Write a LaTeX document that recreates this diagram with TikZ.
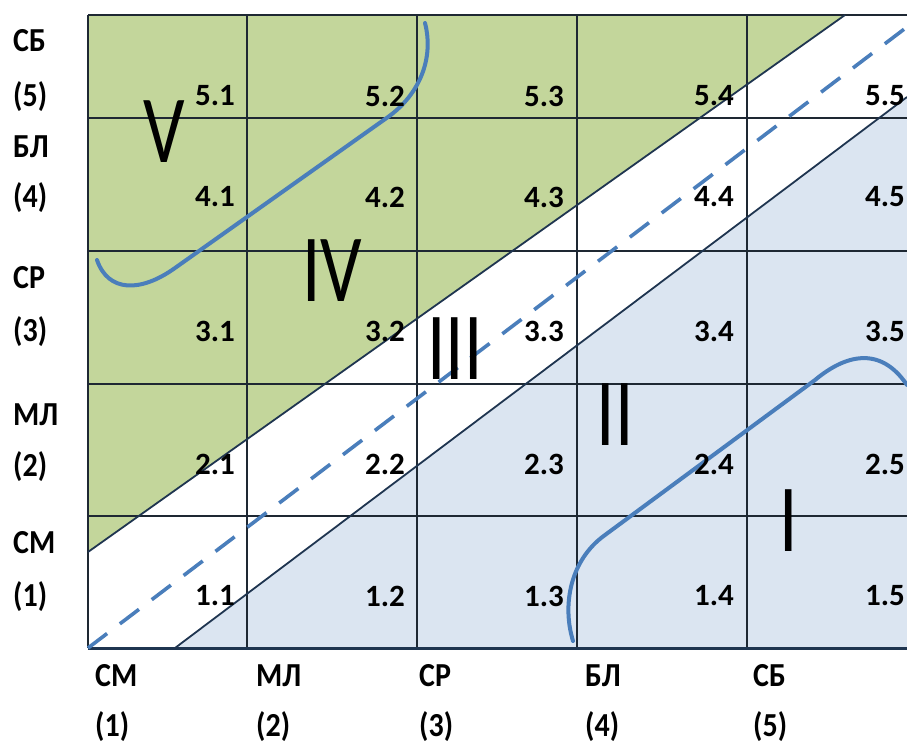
\documentclass[tikz,border=0pt]{standalone}
\usepackage{fontspec}
\setmainfont{Carlito}
\definecolor{zgreen}{HTML}{C3D69B}
\definecolor{zblue}{HTML}{DBE5F1}
\definecolor{cblue}{HTML}{4A7EBB}
\definecolor{gline}{HTML}{1E2833}
\definecolor{dline}{HTML}{1F3550}
\newcommand\tallt[1]{\scalebox{1}[1.12]{#1}}
\newcommand\romt[1]{\scalebox{0.85}[1.12]{#1}}
\begin{document}
\begin{tikzpicture}[x=1pt,y=-1pt,
  gridln/.style={draw=gline,line width=1.5},
  frame/.style={draw=gline,line width=2.6},
  diag/.style={draw=dline,line width=1.8},
  crv/.style={draw=cblue,line width=4,line cap=round},
  dashln/.style={draw=cblue,line width=3.6,dash pattern=on 24 off 16},
  lab/.style={font=\bfseries\fontsize{30}{30}\selectfont,anchor=west,inner sep=0},
  num/.style={font=\bfseries\fontsize{31}{31}\selectfont,anchor=east,inner sep=0},
  roman/.style={font=\fontsize{86}{86}\selectfont,inner sep=0}]
\useasboundingbox (0,0) rectangle (907,744);
\fill[white] (0,0) rectangle (907,744);
% coordinates of corners
\coordinate (tl) at (88,15);
\coordinate (tr) at (907,15);
\coordinate (bl) at (88,648);
\coordinate (br) at (907,648);
\coordinate (gA) at (845,15);
\coordinate (gB) at (88,552);
\coordinate (bA) at (175,648);
\coordinate (bB) at (907,97);
\coordinate (dA) at (88,648);
\coordinate (dB) at (907,27);
% fills
\fill[zgreen] (tl) -- (gA) -- (gB) -- cycle;
\fill[zblue] (bA) -- (bB) -- (br) -- cycle;
% grid
\foreach \x in {247,417,577,747} \draw[gridln] (\x,15) -- (\x,648);
\foreach \y in {118,251,384,516} \draw[gridln] (88,\y) -- (907,\y);
\draw[gridln] (tl) -- (bl);
\draw[frame] (tl) -- (tr);
\draw[frame,draw=dline,line width=3] (bl) -- (br);
% diagonals
\draw[diag] (gB) -- (gA);
\draw[diag] (bA) -- (bB);
\draw[dashln] (dA) -- (dB);
% curves
\draw[crv] (97,260) .. controls (108,292) and (140,293) .. (175,268) -- (388,117) .. controls (420,94) and (434,58) .. (425,23);
\draw[crv] (573,641) .. controls (562,605) and (570,560) .. (605,535) -- (815,380) .. controls (845,355) and (880,345) .. (907,385);
% left labels
\node[lab] (ly5a) at (13,41) {\tallt{СБ}};
\node[lab] (ly5b) at (13,97) {\tallt{(5)}};
\node[lab] (ly4a) at (13,147) {\tallt{БЛ}};
\node[lab] (ly4b) at (13,198) {\tallt{(4)}};
\node[lab] (ly3a) at (13,278) {\tallt{СР}};
\node[lab] (ly3b) at (13,332) {\tallt{(3)}};
\node[lab] (ly2a) at (13,415) {\tallt{МЛ}};
\node[lab] (ly2b) at (13,467) {\tallt{(2)}};
\node[lab] (ly1a) at (13,543) {\tallt{СМ}};
\node[lab] (ly1b) at (13,597) {\tallt{(1)}};
% bottom labels
\node[lab] (lx1a) at (95,676) {\tallt{СМ}};
\node[lab] (lx1b) at (95,727) {\tallt{(1)}};
\node[lab] (lx2a) at (256,676) {\tallt{МЛ}};
\node[lab] (lx2b) at (256,727) {\tallt{(2)}};
\node[lab] (lx3a) at (419,676) {\tallt{СР}};
\node[lab] (lx3b) at (419,727) {\tallt{(3)}};
\node[lab] (lx4a) at (585,676) {\tallt{БЛ}};
\node[lab] (lx4b) at (585,727) {\tallt{(4)}};
\node[lab] (lx5a) at (753,676) {\tallt{СБ}};
\node[lab] (lx5b) at (753,727) {\tallt{(5)}};
% cell numbers
\foreach \r/\yy in {5/96,4/197,3/331,2/464,1/596}{
  \foreach \c/\xx in {1/235,2/405,3/564,4/734,5/905}{
    \node[num] (n\r\c) at (\xx,\yy) {\r.\c};
  }
}
% roman numerals
\node[roman] (rV) at (164,132) {\romt{V}};
\node[roman] (rIV) at (332,271) {\romt{IV}};
\node[roman] (rIII) at (455,349) {\romt{III}};
\node[roman] (rII) at (615,415) {\romt{II}};
\node[roman] (rI) at (789,521) {\romt{I}};
\end{tikzpicture}
\end{document}
